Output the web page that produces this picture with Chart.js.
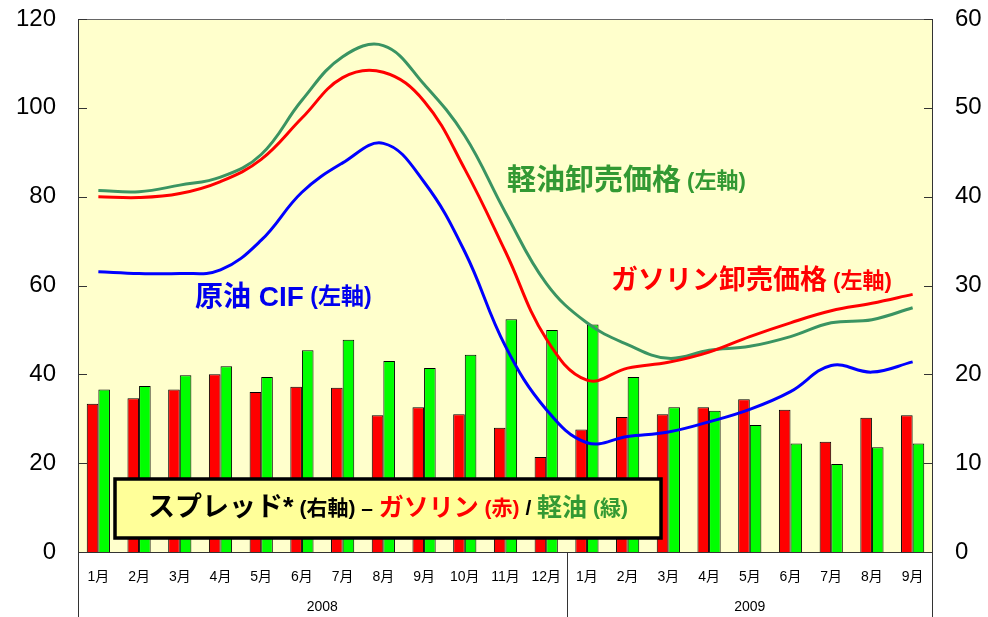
<!DOCTYPE html>
<html>
<head>
<meta charset="utf-8">
<script src="https://cdn.jsdelivr.net/npm/chart.js@4/dist/chart.umd.min.js"></script>
<style>
  html, body { margin: 0; padding: 0; background: #fff; }
  #chart { display: block; }
</style>
</head>
<body>
<canvas id="chart" width="988" height="617"></canvas>
<script>
// Monthly data, Jan 2008 - Sep 2009
var months = ['1月','2月','3月','4月','5月','6月','7月','8月','9月','10月','11月','12月',
              '1月','2月','3月','4月','5月','6月','7月','8月','9月'];
var years = ['2008', '2009'];
var yearMonthCounts = [12, 9];

// left axis: prices
var crudeCif = [63.1, 62.7, 62.7, 63.5, 70.2, 81.0, 87.6, 92.0, 83.3, 67.6, 46.3, 32.1,
                24.6, 26.0, 27.0, 29.3, 32.1, 36.1, 42.0, 40.5, 42.8];
var gasolinePrice = [80.0, 79.8, 80.7, 83.4, 88.4, 97.7, 106.8, 108.0, 101.5, 86.2, 67.6, 48.0,
                     38.7, 41.4, 42.7, 45.0, 48.5, 51.6, 54.3, 56.0, 58.0];
var dieselPrice = [81.4, 81.1, 82.6, 84.4, 89.5, 101.7, 111.5, 114.0, 105.3, 93.7, 76.4, 60.5,
                   51.6, 46.7, 43.6, 45.4, 46.3, 48.5, 51.6, 52.3, 55.0];

// right axis: spreads
var gasolineSpread = [16.7, 17.3, 18.3, 20.0, 18.0, 18.6, 18.5, 15.4, 16.3, 15.5, 14.0, 10.7,
                      13.8, 15.2, 15.5, 16.3, 17.2, 16.0, 12.4, 15.1, 15.4];
var dieselSpread = [18.3, 18.7, 19.9, 20.9, 19.7, 22.7, 23.9, 21.5, 20.7, 22.2, 26.2, 25.0,
                    25.6, 19.7, 16.3, 15.9, 14.3, 12.2, 9.9, 11.8, 12.2];

var leftTicks = [0, 20, 40, 60, 80, 100, 120];
var rightTicks = [0, 10, 20, 30, 40, 50, 60];

var FONT = '"Liberation Sans", Arial, "Noto Sans CJK JP", sans-serif';

// draw a row of text pieces starting at x (or centered), vertically centered at y
function drawParts(ctx, parts, x, y, center) {
    ctx.save();
    ctx.textBaseline = 'middle';
    ctx.textAlign = 'left';
    var total = 0;
    parts.forEach(p => {
        ctx.font = 'bold ' + p.size + 'px ' + FONT;
        p.w = ctx.measureText(p.t).width;
        total += p.w;
    });
    var cx = center ? x - total / 2 : x;
    parts.forEach(p => {
        ctx.font = 'bold ' + p.size + 'px ' + FONT;
        ctx.fillStyle = p.color;
        ctx.fillText(p.t, cx, y);
        cx += p.w;
    });
    ctx.restore();
}

// vertical axes: fixed width, no extra label padding above/below
function fixAxis(width) {
    return function(s) {
        s.width = width;
        s.paddingTop = 0;
        s.paddingBottom = 0;
    };
}

var decorPlugin = {
    id: 'decor',
    beforeDraw: function(chart) {
        var ctx = chart.ctx, a = chart.chartArea;
        ctx.save();
        ctx.fillStyle = '#FFFFCC';
        ctx.fillRect(a.left, a.top, a.right - a.left, a.bottom - a.top);
        ctx.restore();
    },
    afterDraw: function(chart) {
        var ctx = chart.ctx, a = chart.chartArea;
        var x = chart.scales.x, yl = chart.scales.y, yr = chart.scales.y1;
        ctx.save();

        // frame
        ctx.lineWidth = 1;
        ctx.strokeStyle = '#666';
        ctx.beginPath();
        ctx.moveTo(a.left + 0.5, a.top + 0.5);
        ctx.lineTo(a.right - 0.5, a.top + 0.5);
        ctx.stroke();
        ctx.strokeStyle = '#333';
        ctx.beginPath();
        ctx.moveTo(a.left + 0.5, a.top);
        ctx.lineTo(a.left + 0.5, chart.height);
        ctx.moveTo(a.right - 0.5, a.top);
        ctx.lineTo(a.right - 0.5, chart.height);
        ctx.moveTo(a.left, a.bottom + 0.5);
        ctx.lineTo(a.right, a.bottom + 0.5);
        ctx.stroke();

        // inner tick marks
        ctx.beginPath();
        leftTicks.forEach(v => {
            var py = Math.round(yl.getPixelForValue(v)) + 0.5;
            ctx.moveTo(a.left, py);
            ctx.lineTo(a.left + 9, py);
        });
        rightTicks.forEach(v => {
            var py = Math.round(yr.getPixelForValue(v)) + 0.5;
            ctx.moveTo(a.right - 9, py);
            ctx.lineTo(a.right, py);
        });
        ctx.stroke();

        // year separators and labels
        var start = 0;
        var step = x.getPixelForValue(1) - x.getPixelForValue(0);
        ctx.font = '14px ' + FONT;
        ctx.fillStyle = '#000';
        ctx.textAlign = 'center';
        ctx.textBaseline = 'middle';
        years.forEach((yr, i) => {
            var n = yearMonthCounts[i];
            var x0 = x.getPixelForValue(start) - step / 2;
            var x1 = x.getPixelForValue(start + n - 1) + step / 2;
            ctx.fillText(yr, (x0 + x1) / 2, 607);
            if (i > 0) {
                ctx.beginPath();
                ctx.moveTo(Math.round(x0) + 0.5, a.bottom);
                ctx.lineTo(Math.round(x0) + 0.5, chart.height);
                ctx.stroke();
            }
            start += n;
        });

        // series annotations
        drawParts(ctx, [
            { t: '原油 CIF', size: 28, color: '#0000EE' },
            { t: ' (左軸)', size: 23, color: '#0000EE' }
        ], 195, 298, false);
        drawParts(ctx, [
            { t: '軽油卸売価格', size: 29, color: '#339933' },
            { t: ' (左軸)', size: 22, color: '#339933' }
        ], 507, 182, false);
        drawParts(ctx, [
            { t: 'ガソリン卸売価格', size: 27, color: '#FF0000' },
            { t: ' (左軸)', size: 22, color: '#FF0000' }
        ], 611, 282, false);

        // spread legend box
        ctx.fillStyle = '#FFFF99';
        ctx.fillRect(115, 479, 546, 59);
        ctx.lineWidth = 3.5;
        ctx.strokeStyle = '#000';
        ctx.strokeRect(115, 479, 546, 59);
        drawParts(ctx, [
            { t: 'スプレッド*', size: 27, color: '#000' },
            { t: ' (右軸) – ', size: 21, color: '#000' },
            { t: 'ガソリン', size: 25, color: '#FF0000' },
            { t: ' (赤)', size: 21, color: '#FF0000' },
            { t: ' / ', size: 21, color: '#000' },
            { t: '軽油', size: 25, color: '#339933' },
            { t: ' (緑)', size: 21, color: '#339933' }
        ], 388, 509, true);

        ctx.restore();
    }
};

var ctx = document.getElementById('chart').getContext('2d');
var chart = new Chart(ctx, {
    data: {
        labels: months,
        datasets: [
            { type: 'line', label: '原油 CIF', data: crudeCif, yAxisID: 'y',
              borderColor: '#0000FF', borderWidth: 3, pointRadius: 0, tension: 0.4, order: 0 },
            { type: 'line', label: 'ガソリン卸売価格', data: gasolinePrice, yAxisID: 'y',
              borderColor: '#FF0000', borderWidth: 3, pointRadius: 0, tension: 0.4, order: 0 },
            { type: 'line', label: '軽油卸売価格', data: dieselPrice, yAxisID: 'y',
              borderColor: '#3A9462', borderWidth: 3, pointRadius: 0, tension: 0.4, order: 0 },
            { type: 'bar', label: 'ガソリン', data: gasolineSpread, yAxisID: 'y1',
              backgroundColor: '#FF0000', borderColor: '#000', borderWidth: 1,
              categoryPercentage: 0.57, barPercentage: 1, order: 1 },
            { type: 'bar', label: '軽油', data: dieselSpread, yAxisID: 'y1',
              backgroundColor: '#00FF00', borderColor: '#000', borderWidth: 1,
              categoryPercentage: 0.57, barPercentage: 1, order: 1 }
        ]
    },
    options: {
        responsive: false,
        animation: false,
        devicePixelRatio: 1,
        layout: { padding: { top: 19, left: 0, right: 0, bottom: 0 } },
        plugins: { legend: { display: false }, tooltip: { enabled: false } },
        scales: {
            x: {
                grid: { display: false, drawTicks: false },
                border: { display: false },
                ticks: { color: '#000', font: { family: FONT, size: 14 }, padding: 17,
                         maxRotation: 0, autoSkip: false },
                afterFit: function(s) { s.height = 65; s.paddingLeft = 0; s.paddingRight = 0; }
            },
            y: {
                position: 'left', min: 0, max: 120,
                grid: { display: false, drawTicks: false },
                border: { display: false },
                ticks: { stepSize: 20, color: '#000', font: { family: FONT, size: 24 }, padding: 22 },
                afterFit: fixAxis(78)
            },
            y1: {
                position: 'right', min: 0, max: 60,
                grid: { display: false, drawTicks: false },
                border: { display: false },
                ticks: { stepSize: 10, color: '#000', font: { family: FONT, size: 24 }, padding: 22 },
                afterFit: fixAxis(55)
            }
        }
    },
    plugins: [decorPlugin]
});
</script>
</body>
</html>
